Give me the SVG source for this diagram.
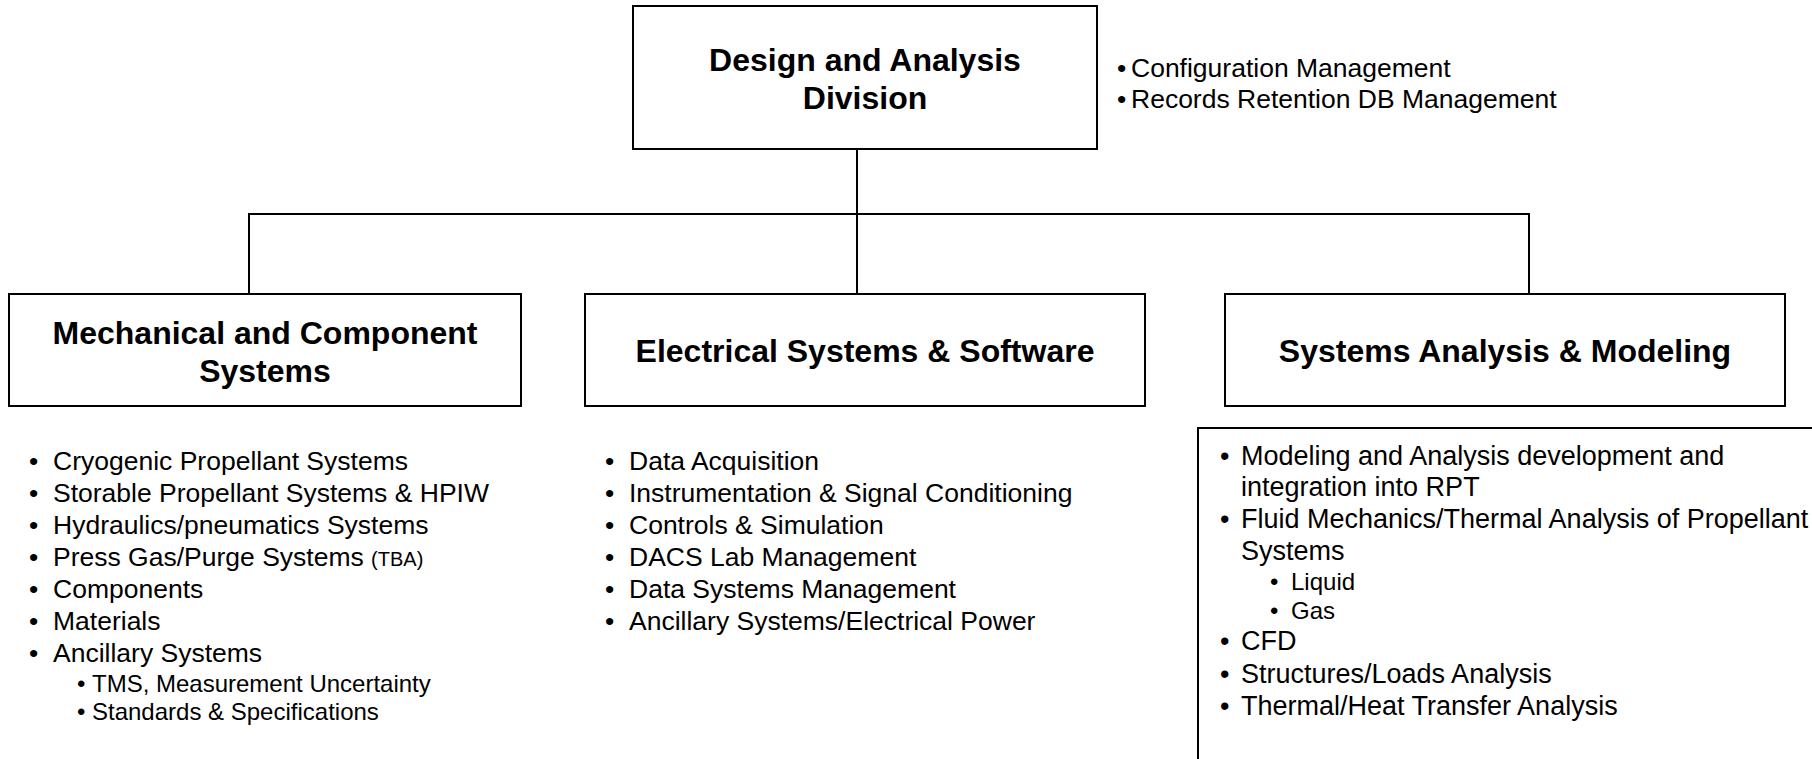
<svg xmlns="http://www.w3.org/2000/svg" width="1812" height="759" viewBox="0 0 1812 759">
  <style>
    .box { fill: #ffffff; stroke: #000000; stroke-width: 2; }
    .wire { fill: none; stroke: #000000; stroke-width: 2; }
    .title { font-family: "Liberation Sans", Arial, sans-serif; font-weight: bold; font-size: 32px; fill: #000; text-anchor: middle; }
    .item { font-family: "Liberation Sans", Arial, sans-serif; font-size: 26.5px; fill: #000; }
    .wide { font-size: 27px; }
    .sub { font-family: "Liberation Sans", Arial, sans-serif; font-size: 24px; fill: #000; }
    .small { font-size: 20px; }
  </style>
  <rect width="1812" height="759" fill="#ffffff"/>

  <!-- tree connectors -->
  <g id="connectors">
    <path class="wire" d="M857 150 V294"/>
    <path class="wire" d="M249 294 V214 H1529 V294"/>
  </g>

  <!-- division head -->
  <g id="division">
    <rect class="box" x="633" y="6" width="464" height="143"/>
    <text class="title" x="865" y="71">Design and Analysis</text>
    <text class="title" x="865" y="109">Division</text>
    <text class="item" x="1117" y="77">•</text>
    <text class="item" x="1131" y="77">Configuration Management</text>
    <text class="item" x="1117" y="108">•</text>
    <text class="item" x="1131" y="108">Records Retention DB Management</text>
  </g>

  <!-- mechanical branch -->
  <g id="mechanical">
    <rect class="box" x="9" y="294" width="512" height="112"/>
    <text class="title" x="265" y="344">Mechanical and Component</text>
    <text class="title" x="265" y="382">Systems</text>
    <g class="item">
      <text x="29" y="470">•</text><text x="53" y="470">Cryogenic Propellant Systems</text>
      <text x="29" y="502">•</text><text x="53" y="502">Storable Propellant Systems &amp; HPIW</text>
      <text x="29" y="534">•</text><text x="53" y="534">Hydraulics/pneumatics Systems</text>
      <text x="29" y="566">•</text><text x="53" y="566">Press Gas/Purge Systems <tspan class="small">(TBA)</tspan></text>
      <text x="29" y="598">•</text><text x="53" y="598">Components</text>
      <text x="29" y="630">•</text><text x="53" y="630">Materials</text>
      <text x="29" y="662">•</text><text x="53" y="662">Ancillary Systems</text>
    </g>
    <g class="sub">
      <text x="77" y="692">•</text><text x="92" y="692">TMS, Measurement Uncertainty</text>
      <text x="77" y="720">•</text><text x="92" y="720">Standards &amp; Specifications</text>
    </g>
  </g>

  <!-- electrical branch -->
  <g id="electrical">
    <rect class="box" x="585" y="294" width="560" height="112"/>
    <text class="title" x="865" y="362">Electrical Systems &amp; Software</text>
    <g class="item">
      <text x="605" y="470">•</text><text x="629" y="470">Data Acquisition</text>
      <text x="605" y="502">•</text><text x="629" y="502">Instrumentation &amp; Signal Conditioning</text>
      <text x="605" y="534">•</text><text x="629" y="534">Controls &amp; Simulation</text>
      <text x="605" y="566">•</text><text x="629" y="566">DACS Lab Management</text>
      <text x="605" y="598">•</text><text x="629" y="598">Data Systems Management</text>
      <text x="605" y="630">•</text><text x="629" y="630">Ancillary Systems/Electrical Power</text>
    </g>
  </g>

  <!-- analysis branch -->
  <g id="analysis">
    <rect class="box" x="1225" y="294" width="560" height="112"/>
    <text class="title" x="1505" y="362">Systems Analysis &amp; Modeling</text>
    <rect class="box" x="1198" y="428" width="700" height="400"/>
    <g class="item wide">
      <text x="1220" y="465">•</text><text x="1241" y="465">Modeling and Analysis development and</text>
      <text x="1241" y="496">integration into RPT</text>
      <text x="1220" y="528">•</text><text x="1241" y="528">Fluid Mechanics/Thermal Analysis of Propellant</text>
      <text x="1241" y="560">Systems</text>
      <text x="1220" y="650">•</text><text x="1241" y="650">CFD</text>
      <text x="1220" y="683">•</text><text x="1241" y="683">Structures/Loads Analysis</text>
      <text x="1220" y="715">•</text><text x="1241" y="715">Thermal/Heat Transfer Analysis</text>
    </g>
    <g class="sub">
      <text x="1270" y="590">•</text><text x="1291" y="590">Liquid</text>
      <text x="1270" y="619">•</text><text x="1291" y="619">Gas</text>
    </g>
  </g>
</svg>
